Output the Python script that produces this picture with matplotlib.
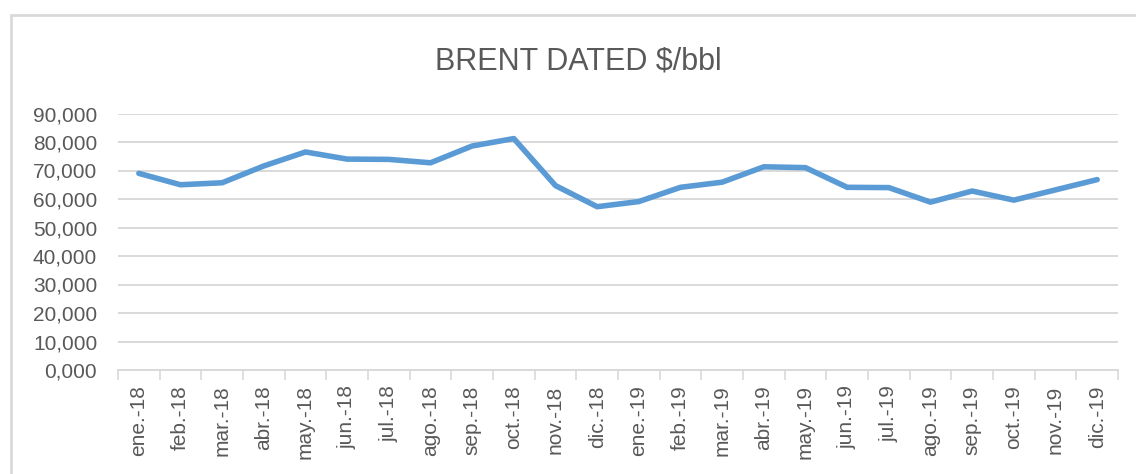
import matplotlib.pyplot as plt
import numpy as np
from matplotlib.patches import Rectangle
from matplotlib.ticker import FuncFormatter

plt.rcParams['font.family'] = ['Liberation Sans', 'DejaVu Sans']

months = ['ene.-18', 'feb.-18', 'mar.-18', 'abr.-18', 'may.-18', 'jun.-18',
          'jul.-18', 'ago.-18', 'sep.-18', 'oct.-18', 'nov.-18', 'dic.-18',
          'ene.-19', 'feb.-19', 'mar.-19', 'abr.-19', 'may.-19', 'jun.-19',
          'jul.-19', 'ago.-19', 'sep.-19', 'oct.-19', 'nov.-19', 'dic.-19']
brent = [69.0, 65.0, 65.7, 71.6, 76.5, 74.0, 73.9, 72.7, 78.6, 81.2, 64.7, 57.3,
         59.1, 64.1, 65.9, 71.3, 71.0, 64.1, 64.0, 58.9, 62.8, 59.6, 63.2, 66.8]

text_color = '#595959'
grid_color = '#D9D9D9'

fig = plt.figure(figsize=(11.36, 4.74), dpi=100)
W, H = 1136, 474

# chart border
fig.patches.append(Rectangle((11 / W, -0.1), 1.2, 1 - 15 / H + 0.1,
                             transform=fig.transFigure, fill=False,
                             edgecolor=grid_color, linewidth=2))

ax = fig.add_axes([118 / W, 1 - 370 / H, 1000 / W, (370 - 113.5) / H])

x = np.arange(len(months))
ax.plot(x, brent, color='#5B9BD5', linewidth=4, solid_capstyle='round',
        solid_joinstyle='round', zorder=3)

ax.set_xlim(-0.5, len(months) - 0.5)
ax.set_ylim(0, 90)
ax.set_yticks(np.arange(0, 91, 10))
ax.yaxis.set_major_formatter(FuncFormatter(lambda v, p: f'{v:.3f}'.replace('.', ',')))
ax.grid(axis='y', color=grid_color, linewidth=1.4)
ax.set_axisbelow(True)

ax.set_xticks(np.arange(-0.5, len(months), 1.0))
ax.set_xticklabels([])
ax.set_xticks(x, minor=True)
ax.set_xticklabels(months, minor=True, rotation=90)
ax.tick_params(axis='x', which='major', length=7, width=1.2, color=grid_color)
ax.tick_params(axis='x', which='minor', length=0, pad=11, labelsize=15,
               labelcolor=text_color)
ax.tick_params(axis='y', length=0, pad=15, labelsize=15, labelcolor=text_color)

for side in ['top', 'right', 'left']:
    ax.spines[side].set_visible(False)
ax.spines['bottom'].set_color(grid_color)
ax.spines['bottom'].set_linewidth(1.4)

fig.text(578 / W, 1 - 62 / H, 'BRENT DATED $/bbl', ha='center', va='center',
         fontsize=22, color=text_color)

fig.savefig('out.png', dpi=100)
